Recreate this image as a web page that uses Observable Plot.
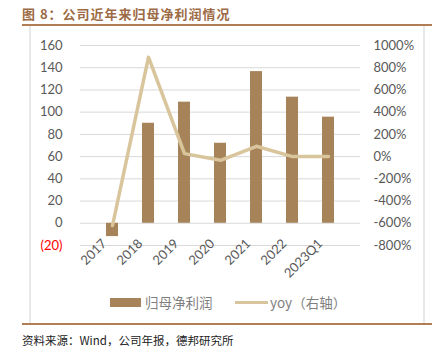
<!DOCTYPE html>
<html><head><meta charset="utf-8">
<script src="https://cdn.jsdelivr.net/npm/d3@7"></script>
<script src="https://cdn.jsdelivr.net/npm/@observablehq/plot@0.6"></script>
<style>
html,body{margin:0;padding:0;background:#fff;}
#wrap{position:relative;width:438px;height:358px;overflow:hidden;font-family:"Noto Sans CJK SC",sans-serif;}
.abs{position:absolute;}
#title{left:22px;top:4px;font-size:13px;font-weight:bold;color:#9C6B45;letter-spacing:1px;white-space:nowrap;}
#tline{left:22px;top:24px;width:410px;height:2px;background:#B07D55;}
#bline{left:22px;top:323px;width:410px;height:2px;background:#B07D55;}
#vl{left:29px;top:26px;width:2px;height:297px;background:#E8E8E8;}
#vr{left:423px;top:26px;width:2px;height:297px;background:#E8E8E8;}
#chart{left:0;top:30px;}
#cap{left:22px;top:332px;font-size:11.5px;color:#222;white-space:nowrap;}
.leg{font-size:13.5px;color:#7F7F7F;white-space:nowrap;}
</style></head>
<body><div id="wrap">
<div id="title" class="abs">图 8：公司近年来归母净利润情况</div>
<div id="tline" class="abs"></div>
<div id="vl" class="abs"></div>
<div id="vr" class="abs"></div>
<div id="chart" class="abs"></div>
<div class="abs" style="left:110px;top:298px;width:31px;height:9px;background:#A68359;"></div>
<div class="abs leg" style="left:145px;top:292px;">归母净利润</div>
<div class="abs" style="left:235px;top:301px;width:33px;height:3px;background:#D9C59C;"></div>
<div class="abs leg" style="left:270px;top:292px;">yoy（右轴）</div>
<div id="bline" class="abs"></div>
<div id="cap" class="abs">资料来源：Wind，公司年报，德邦研究所</div>
</div>
<script>
const categories = ["2017","2018","2019","2020","2021","2022","2023Q1"];
const profit = [-12, 90, 109, 72, 136.5, 113.5, 95.5];
const yoy = [-620, 895, 27, -33, 93, 0, 0]; // percent
const leftTicks = [-20,0,20,40,60,80,100,120,140,160];
const rightTicks = [-800,-600,-400,-200,0,200,400,600,800,1000];

// right axis percent mapped onto left scale: left = 60 + pct/10
const toLeft = p => 60 + p / 10;
const barData = categories.map((c,i)=>({c, v: profit[i]}));
const lineData = categories.map((c,i)=>({c, v: toLeft(yoy[i])}));

const fontNum = "Lato, 'Noto Sans CJK SC', sans-serif";
const plot = Plot.plot({
  width: 438, height: 260,
  marginTop: 15, marginBottom: 45, marginLeft: 80, marginRight: 78,
  style: {fontFamily: fontNum, fontSize: "13px", color: "#595959", background: "transparent"},
  x: {domain: categories, padding: 0.66, label: null},
  y: {domain: [-20,160], label: null},
  marks: [
    Plot.ruleY(leftTicks, {stroke: "#D9D9D9", strokeWidth: 1}),
    Plot.barY(barData, {x: "c", y: "v", fill: "#A68359"}),
    Plot.line(lineData, {x: "c", y: "v", stroke: "#D9C59C", strokeWidth: 3.5, strokeLinejoin: "round"}),
    Plot.axisY({ticks: leftTicks, tickSize: 0, tickPadding: 18, anchor: "left",
      tickFormat: d => d < 0 ? `(${-d})` : `${d}`, fill: d => d < 0 ? "red" : "#595959"}),
    Plot.axisY({ticks: rightTicks.map(toLeft), tickSize: 0, tickPadding: 13, anchor: "right",
      tickFormat: d => `${Math.round((d-60)*10)}%`, fill: "#595959"}),
    Plot.axisX({tickSize: 0, tickPadding: 0, tickRotate: -45, anchor: "bottom", fill: "#595959", dx: -8, dy: -4})
  ]
});
document.getElementById("chart").appendChild(plot);
</script>
</body></html>
